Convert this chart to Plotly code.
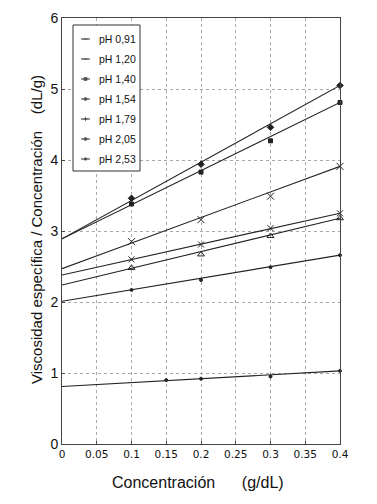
import plotly.graph_objects as go

# Series labels
series_names = ["pH 0,91", "pH 1,20", "pH 1,40", "pH 1,54", "pH 1,79", "pH 2,05", "pH 2,53"]

# Concentration of measured points (g/dL)
conc_points = [0.1, 0.2, 0.3, 0.4]
conc_bottom = [0.15, 0.2, 0.3, 0.4]

# Measured reduced viscosity values (dL/g)
ph091 = [0.90, 0.92, 0.95, 1.03]
ph120 = [2.17, 2.31, 2.49, 2.66]
ph140 = [2.48, 2.67, 2.93, 3.18]
ph154 = [2.60, 2.81, 3.04, 3.25]
ph179 = [2.85, 3.16, 3.49, 3.91]
ph205 = [3.38, 3.83, 4.27, 4.81]
ph253 = [3.46, 3.94, 4.46, 5.05]

# Fitted straight lines: value at c=0 (intercept) and at c=0.4
fit_x = [0.0, 0.4]
fit_start = [0.81, 2.01, 2.24, 2.38, 2.47, 2.89, 2.89]
fit_end = [1.03, 2.66, 3.18, 3.25, 3.91, 4.81, 5.05]

x_ticks = [0, 0.05, 0.1, 0.15, 0.2, 0.25, 0.3, 0.35, 0.4]
x_tick_labels = ["0", "0.05", "0.1", "0.15", "0.2", "0.25", "0.3", "0.35", "0.4"]
y_ticks = [0, 1, 2, 3, 4, 5, 6]

values = [ph091, ph120, ph140, ph154, ph179, ph205, ph253]
xs = [conc_bottom, conc_points, conc_points, conc_points, conc_points, conc_points, conc_points]
symbols = ["circle", "circle", "triangle-up-open", "x-thin-open", "x-thin-open", "square", "diamond"]
sizes = [3, 3, 6, 6, 7, 4, 5]
legend_symbols = ["line-ew", "line-ew", "square", "circle", "cross-thin-open", "circle", "asterisk-open"]

# Figure geometry (pixels). The page body has an 8px margin, so the figure is
# made 8px smaller and the left/top margins reduced accordingly.
BODY = 8
W, H = 377 - BODY, 504 - BODY
ML, MR, MT, MB = 62 - BODY, 37, 18 - BODY, 60
PW, PH = W - ML - MR, H - MT - MB

line_color = "#222222"
fig = go.Figure()
for i, name in enumerate(series_names):
    fig.add_trace(go.Scatter(
        x=fit_x, y=[fit_start[i], fit_end[i]], mode="lines", name=name,
        line=dict(color=line_color, width=1.1), showlegend=False, hoverinfo="skip"))
    fig.add_trace(go.Scatter(
        x=xs[i], y=values[i], mode="markers", name=name, showlegend=False,
        marker=dict(symbol=symbols[i], size=sizes[i], color=line_color,
                    line=dict(color=line_color, width=1))))

# Hand-drawn legend box (overlay axis in pixel units inside the plot area)
leg_left, leg_right, leg_top, leg_bottom = 11, 78, 7, 153
row0, row_step = 21, 20
samp_x0, samp_x1, text_x = 19, 28, 35
fig.add_trace(go.Scatter(
    x=[leg_left, leg_right, leg_right, leg_left, leg_left],
    y=[leg_top, leg_top, leg_bottom, leg_bottom, leg_top],
    xaxis="x2", yaxis="y2", mode="lines", fill="toself", fillcolor="white",
    line=dict(color="#333333", width=1), showlegend=False, hoverinfo="skip"))
for i, name in enumerate(series_names):
    ry = row0 + i * row_step
    fig.add_trace(go.Scatter(
        x=[samp_x0, (samp_x0 + samp_x1) / 2, samp_x1], y=[ry, ry, ry],
        xaxis="x2", yaxis="y2", mode="lines+markers", showlegend=False, hoverinfo="skip",
        line=dict(color="#333333", width=1),
        marker=dict(symbol=legend_symbols[i], size=[0, 3, 0], color="#333333",
                    line=dict(color="#333333", width=1))))
    fig.add_annotation(x=text_x, y=ry, xref="x2", yref="y2", text=name,
                       showarrow=False, xanchor="left", yanchor="middle",
                       font=dict(size=10.5, color="#111111"))

# Axis titles as annotations
fig.add_annotation(text="Concentración      (g/dL)", xref="paper", yref="paper",
                   x=(198 - 62) / PW, y=0, yshift=-(482 - 444), xanchor="center",
                   yanchor="middle", showarrow=False, font=dict(size=16, color="#111111"))
fig.add_annotation(text="Viscosidad específica / Concentración    (dL/g)",
                   xref="paper", yref="paper", x=0, xshift=-(62 - 37),
                   y=(444 - 230) / PH, xanchor="center", yanchor="middle",
                   textangle=-90, showarrow=False, font=dict(size=15, color="#111111"))

font_family = "Liberation Sans, Arial, sans-serif"
grid = dict(showgrid=True, gridcolor="#a8a8a8", griddash="dot", gridwidth=1,
            showline=True, linecolor="#444444", linewidth=1, mirror=True,
            ticks="inside", ticklen=3, tickcolor="#444444", zeroline=False,
            automargin=False)
fig.update_layout(
    width=W, height=H,
    margin=dict(l=ML, r=MR, t=MT, b=MB),
    paper_bgcolor="white", plot_bgcolor="white",
    font=dict(family=font_family, color="#111111"),
    showlegend=False,
    xaxis=dict(range=[0, 0.4], tickvals=x_ticks, ticktext=x_tick_labels,
               tickfont=dict(size=10.5, family="DejaVu Sans"), **grid),
    yaxis=dict(range=[0, 6], tickvals=y_ticks, tickfont=dict(size=14), **grid),
    xaxis2=dict(range=[0, PW], overlaying="x", visible=False, fixedrange=True),
    yaxis2=dict(range=[PH, 0], overlaying="y", visible=False, fixedrange=True),
)
fig.update_traces(cliponaxis=False)
fig.write_html("out.html")
